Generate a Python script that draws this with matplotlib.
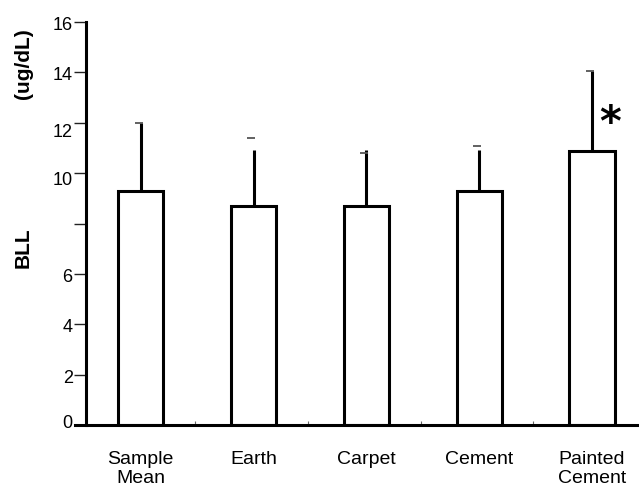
import matplotlib
matplotlib.use("Agg")
import matplotlib.pyplot as plt
import matplotlib.transforms as mtransforms
import numpy as np

categories = ["Sample\nMean", "Earth", "Carpet", "Cement", "Painted\nCement"]
means = [9.30, 8.68, 8.68, 9.29, 10.88]
err_tops = [12.0, 10.91, 10.91, 10.91, 14.05]
cap_vals = [12.0, 11.38, 10.80, 11.08, 14.05]
yticks = [0, 2, 4, 6, 8, 10, 12, 14, 16]
yticklabels = ["0", "2", "4", "6", "", "10", "12", "14", "16"]

plt.rcParams['font.family'] = ['Liberation Sans', 'DejaVu Sans']

fig = plt.figure(figsize=(6.39, 4.87), dpi=100)
ax = fig.add_axes([75/639, 1 - 425/487, 1 - 75/639, (425 - 22)/487])

x = np.arange(len(categories))
lw = 2.2
ax.bar(x, means, width=0.4, color="white", edgecolor="black", linewidth=lw, zorder=2)
yerr_up = np.array(err_tops) - np.array(means)
ax.errorbar(x, means, yerr=[np.zeros(len(x)), yerr_up], fmt="none",
            ecolor="black", elinewidth=lw, capsize=0, zorder=1)
ax.plot(x - 0.02, cap_vals, linestyle="none", marker="_", markersize=6,
        markeredgewidth=1.3, color="#555555", zorder=3)

ax.set_xlim(-0.583, 4.417)
ax.set_ylim(0, 16)

for s in ["top", "right"]:
    ax.spines[s].set_visible(False)
ax.spines["left"].set_position(("data", -0.486))
ax.spines["left"].set_linewidth(lw)
ax.spines["bottom"].set_linewidth(lw)

ax.set_yticks(yticks)
ax.set_yticklabels(yticklabels, fontsize=13)
ax.tick_params(axis="y", direction="out", length=8.5, width=1.0, pad=1, color="#222222")

ax.set_xticks(x)
ax.set_xticklabels(categories, fontsize=14, linespacing=1.1)
ax.tick_params(axis="x", which="major", length=0, pad=19)
ax.set_xticks(x[:-1] + 0.48, minor=True)
ax.tick_params(axis="x", which="minor", direction="in", length=3, width=0.8, color="#666666")

# slight downward shift of some y tick labels as in reference
for lab in ax.get_yticklabels():
    t = lab.get_text()
    dy = {"10": -5, "12": -8}.get(t, -1.5)
    if t == "0":
        dy = 4
    off = mtransforms.ScaledTranslation(0, dy / 100, fig.dpi_scale_trans)
    lab.set_transform(lab.get_transform() + off)

ax.text(4.16, 11.95, "*", fontsize=30, fontweight="bold", family="DejaVu Sans",
        ha="center", va="center")

fig.text(23/639, 1 - 248/487, "BLL", rotation=90, fontsize=15, fontweight="bold",
         ha="center", va="center")
fig.text(23/639, 1 - 64/487, "(ug/dL)", rotation=90, fontsize=15, fontweight="bold",
         ha="center", va="center")

fig.savefig("out.png", dpi=100)
